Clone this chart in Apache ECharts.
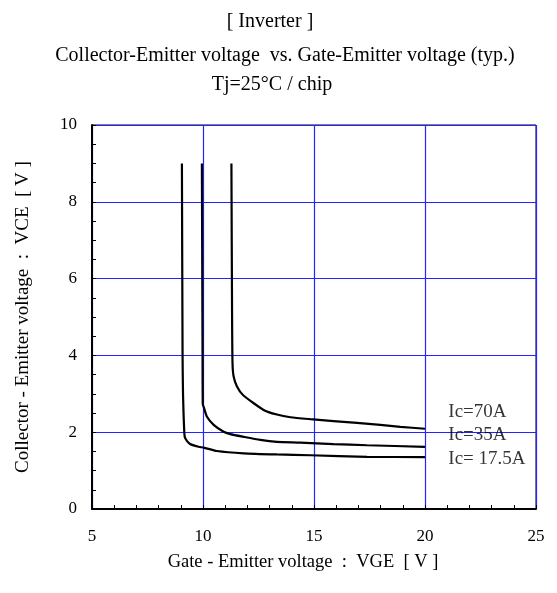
<!DOCTYPE html>
<html><head><meta charset="utf-8">
<script src="https://cdn.jsdelivr.net/npm/echarts@6/dist/echarts.min.js"></script>
<style>html,body{margin:0;padding:0;background:#fff}#c{width:557px;height:593px}</style>
</head><body><div id="c"></div>
<script>
var FONT = '"Liberation Serif", "Times New Roman", serif';
var titleLines = ['[ Inverter ]', 'Collector-Emitter voltage  vs. Gate-Emitter voltage (typ.)', 'Tj=25°C / chip'];
var xName = 'Gate - Emitter voltage  :  VGE  [ V ]';
var yName = 'Collector - Emitter voltage  :  VCE  [ V ]';

var ic17 = [[9.05,9.0],[9.08,4.0],[9.1,3.0],[9.16,1.97],[9.2,1.84],[9.4,1.70],[9.8,1.62],[10.03,1.60],[10.63,1.51],[11.83,1.45],[13.33,1.42],[14.84,1.40],[17.39,1.36],[20.0,1.35]];
var ic35 = [[9.95,9.0],[9.98,4.0],[9.99,2.72],[10.03,2.66],[10.18,2.40],[10.48,2.19],[10.93,2.01],[11.23,1.95],[11.83,1.88],[12.58,1.80],[13.33,1.75],[14.38,1.73],[15.88,1.69],[17.39,1.66],[20.0,1.62]];
var ic70 = [[11.28,9.0],[11.31,5.0],[11.33,3.79],[11.38,3.45],[11.53,3.19],[11.80,2.97],[12.73,2.58],[13.33,2.46],[13.94,2.39],[14.83,2.34],[15.88,2.29],[17.99,2.19],[18.89,2.14],[20.0,2.09]];
var curveLabels = ['Ic=70A', 'Ic=35A', 'Ic= 17.5A'];
var labelPos = [[21.05,2.52],[21.05,1.93],[21.05,1.31]];

var chart = echarts.init(document.getElementById('c'), null, {renderer:'canvas'});
var lineStyle = {color:'#000', width:2.2};
function ser(d){ return {type:'line', data:d, symbol:'none', smooth:0.2, lineStyle:lineStyle, z:5}; }
chart.setOption({
  animation:false,
  textStyle:{fontFamily:FONT},
  grid:{left:92, top:125, width:444, height:384, containLabel:false, show:true, borderColor:'#000', borderWidth:1, backgroundColor:'transparent'},
  xAxis:{
    type:'value', min:5, max:25, interval:5,
    name:xName, nameLocation:'middle', nameGap:44,
    nameTextStyle:{fontFamily:FONT, fontSize:18.5, color:'#000', padding:[0,22,0,0]},
    axisLine:{show:true, onZero:false, lineStyle:{color:'#000', width:2}},
    axisTick:{show:true, inside:true, length:4, lineStyle:{color:'#000'}},
    minorTick:{show:true, splitNumber:5, length:4, lineStyle:{color:'#000'}},
    axisLabel:{fontFamily:FONT, fontSize:17, color:'#000', margin:19},
    splitLine:{show:true, lineStyle:{color:'#2424ff', width:1.2}}
  },
  yAxis:{
    type:'value', min:0, max:10, interval:2,
    name:yName, nameLocation:'middle', nameGap:59, nameRotate:90,
    nameTextStyle:{fontFamily:FONT, fontSize:19, color:'#000'},
    axisLine:{show:true, onZero:false, lineStyle:{color:'#000', width:2}},
    axisTick:{show:true, inside:true, length:4, lineStyle:{color:'#000'}},
    minorTick:{show:true, splitNumber:4, length:4, lineStyle:{color:'#000'}},
    axisLabel:{fontFamily:FONT, fontSize:17, color:'#000', margin:15},
    splitLine:{show:true, lineStyle:{color:'#2424ff', width:1.2}}
  },
  graphic:[
    {type:'text', style:{x:270, y:22, text:titleLines[0], font:'20px '+FONT, fill:'#000', textAlign:'center', textVerticalAlign:'middle'}},
    {type:'text', style:{x:285, y:56, text:titleLines[1], font:'20px '+FONT, fill:'#000', textAlign:'center', textVerticalAlign:'middle'}},
    {type:'text', style:{x:272, y:85, text:titleLines[2], font:'20px '+FONT, fill:'#000', textAlign:'center', textVerticalAlign:'middle'}}
  ],
  series:[
    ser(ic17), ser(ic35), ser(ic70),
    {type:'scatter', symbolSize:0, z:6,
     data: labelPos.map(function(p,i){return {value:p, label:{show:true, formatter:curveLabels[i]}};}),
     label:{position:'right', distance:0, fontFamily:FONT, fontSize:19, color:'#000'}}
  ]
});
</script></body></html>
